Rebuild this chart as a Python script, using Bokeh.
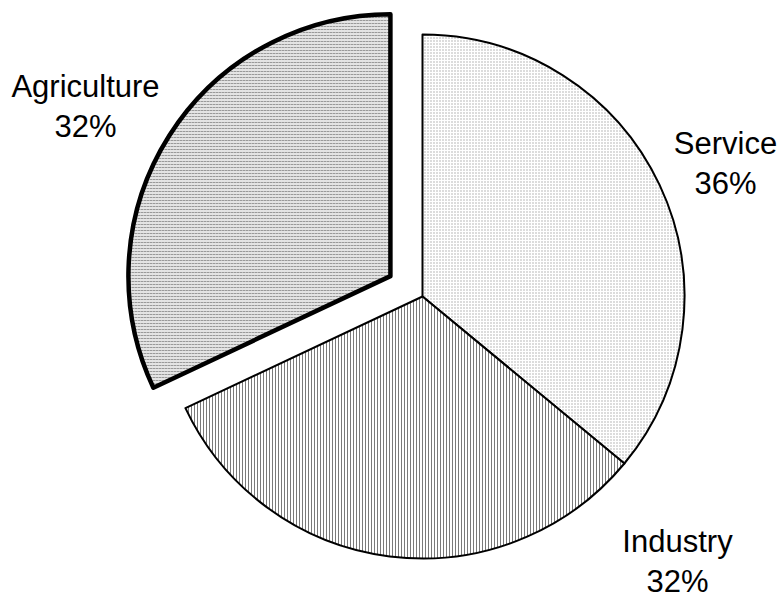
import math
from bokeh.plotting import figure
from bokeh.models import Range1d, ColumnDataSource, Label
from bokeh.core.properties import value
from bokeh.embed import file_html
from bokeh.resources import INLINE

# ---- data ----
sectors = ["Service", "Industry", "Agriculture"]
shares = [36, 32, 32]
pct_labels = ["36%", "32%", "32%"]
source_note = "Source: NIS Statistical Yearbook 2005"

# ---- layout / style ----
W, H = 784, 593
cx, cy = 422, H - 296
R = 262
explode = [0, 0, 38]
fill_colors = ["white", "white", "#e4e4e4"]
hatch_patterns = ["dot", "vertical_line", "horizontal_dash"]
hatch_colors = ["#a8a8a8", "#7a7a7a", "#9a9a9a"]
hatch_scales = [3, 3, 3]
line_widths = [2, 2, 4.5]
# label anchor positions (centre x, baseline y of first line) in plot coords
label_pos = [(725, H - 143), (677, H - 541), (85, H - 86)]
line_gap = 39.5

total = sum(shares)
xs, ys, starts, ends = [], [], [], []
acc = 0
for s, off in zip(shares, explode):
    a0 = math.pi / 2 - 2 * math.pi * acc / total
    acc += s
    a1 = math.pi / 2 - 2 * math.pi * acc / total
    mid = (a0 + a1) / 2
    xs.append(cx + off * math.cos(mid))
    ys.append(cy + off * math.sin(mid))
    starts.append(a0)
    ends.append(a1)

p = figure(width=W, height=H, output_backend="svg", toolbar_location=None,
           x_range=Range1d(0, W), y_range=Range1d(0, H),
           min_border=0, min_border_left=0, min_border_right=0,
           min_border_top=0, min_border_bottom=0)
p.axis.visible = False
p.grid.visible = False
p.outline_line_color = None
p.background_fill_color = "white"
p.border_fill_color = "white"

for i in range(len(sectors)):
    p.wedge(x=xs[i], y=ys[i], radius=R, start_angle=starts[i], end_angle=ends[i],
            direction="clock", fill_color=fill_colors[i],
            hatch_pattern=hatch_patterns[i], hatch_color=hatch_colors[i],
            hatch_scale=hatch_scales[i], hatch_weight=1,
            line_color="black", line_width=line_widths[i], line_join="round")

src = ColumnDataSource(dict(
    x=[lp[0] for lp in label_pos],
    y1=[lp[1] for lp in label_pos],
    y2=[lp[1] - line_gap for lp in label_pos],
    name=sectors, pct=pct_labels))
for ycol, tcol in (("y1", "name"), ("y2", "pct")):
    p.text(x="x", y=ycol, text=tcol, source=src, text_align="center",
           text_baseline="alphabetic", text_font=value("Liberation Sans"),
           text_font_size="31px", text_color="black")

p.add_layout(Label(x=13, y=H - 604.5, text=source_note, text_font="Liberation Sans",
                   text_font_size="31px", text_color="black",
                   text_baseline="alphabetic"))

open("out.html", "w").write(file_html(p, INLINE))
